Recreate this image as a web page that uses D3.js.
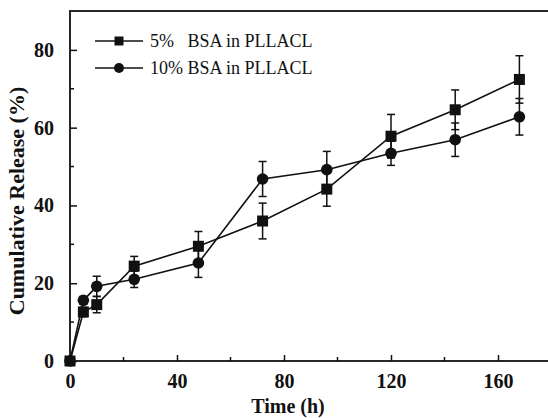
<!DOCTYPE html>
<meta charset="utf-8">
<style>
  body { margin: 0; background: #fff; }
  svg text { font-family: "Liberation Serif", "Times New Roman", serif; fill: #111; }
</style>
<body>
<script src="https://d3js.org/d3.v7.min.js"></script>
<script>
// release data
var time     = [0, 5, 10, 24, 48, 72, 96, 120, 144, 168];
var bsa5     = [0, 12.6, 14.5, 24.4, 29.5, 36.0, 44.2, 57.8, 64.6, 72.4];
var bsa5Err  = [0, 1.2, 2.1, 2.5, 3.8, 4.6, 4.4, 5.6, 5.1, 6.1];
var bsa10    = [0, 15.6, 19.2, 21.0, 25.2, 46.8, 49.2, 53.4, 56.9, 62.8];
var bsa10Err = [0, 1.0, 2.6, 2.1, 3.7, 4.5, 4.7, 3.1, 4.3, 4.7];
var xTicks = [0, 40, 80, 120, 160];
var yTicks = [0, 20, 40, 60, 80];
var seriesNames = ["5%   BSA in PLLACL", "10% BSA in PLLACL"];

var W = 548, H = 418;
var svg = d3.select("body").append("svg")
    .attr("width", W).attr("height", H);

// scales
var x = d3.scaleLinear().domain([0, 180]).range([70, 551.5]);
var y = d3.scaleLinear().domain([0, 90]).range([361, 11]);

// frame
svg.append("rect")
    .attr("x", x(0)).attr("y", y(90))
    .attr("width", x(180) - x(0)).attr("height", y(0) - y(90))
    .style("fill", "none").style("stroke", "#111").style("stroke-width", 1.8);

// x axis, ticks inward
var xAxis = svg.append("g")
    .attr("transform", "translate(0," + y(0) + ")")
    .call(d3.axisBottom(x).tickValues(xTicks).tickSize(-6).tickPadding(13).tickFormat(d3.format("d")));
xAxis.select(".domain").remove();
xAxis.selectAll("line").style("stroke", "#111").style("stroke-width", 1.5);
xAxis.selectAll("text").style("font-size", "20px").style("font-weight", "bold").attr("dy", "0.71em");
svg.append("g").selectAll("line")
    .data([20, 60, 100, 140])
    .enter().append("line")
    .attr("x1", function(d) { return x(d); }).attr("x2", function(d) { return x(d); })
    .attr("y1", y(0)).attr("y2", y(0) - 4)
    .style("stroke", "#111").style("stroke-width", 1.5);

// y axis, ticks inward
var yAxis = svg.append("g")
    .attr("transform", "translate(" + x(0) + ",0)")
    .call(d3.axisLeft(y).tickValues(yTicks).tickSize(-7).tickPadding(16));
yAxis.select(".domain").remove();
yAxis.selectAll("line").style("stroke", "#111").style("stroke-width", 1.5);
yAxis.selectAll("text").style("font-size", "20px").style("font-weight", "bold");
svg.append("g").selectAll("line")
    .data([10, 30, 50, 70])
    .enter().append("line")
    .attr("x1", x(0)).attr("x2", x(0) + 4)
    .attr("y1", function(d) { return y(d); }).attr("y2", function(d) { return y(d); })
    .style("stroke", "#111").style("stroke-width", 1.5);

// axis titles
svg.append("text")
    .attr("x", 288).attr("y", 413)
    .style("text-anchor", "middle").style("font-size", "20px").style("font-weight", "bold")
    .text("Time (h)");
svg.append("text")
    .attr("transform", "translate(24,201) rotate(-90)")
    .style("text-anchor", "middle").style("font-size", "22px").style("font-weight", "bold")
    .text("Cumulative Release (%)");

// series
var series = [
    {vals: bsa5, err: bsa5Err, shape: "square"},
    {vals: bsa10, err: bsa10Err, shape: "circle"}
];

var line = d3.line()
    .x(function(d) { return x(d[0]); })
    .y(function(d) { return y(d[1]); });

series.forEach(function(s) {
    var pts = time.map(function(t, i) { return [t, s.vals[i], s.err[i]]; });

    svg.append("path")
        .attr("d", line(pts))
        .style("fill", "none").style("stroke", "#111").style("stroke-width", 1.6);

    var eb = svg.append("g").selectAll("g")
        .data(pts.filter(function(p) { return p[2] > 0; }))
        .enter().append("g")
        .style("stroke", "#111").style("stroke-width", 1.5);
    eb.append("line")
        .attr("x1", function(d) { return x(d[0]); }).attr("x2", function(d) { return x(d[0]); })
        .attr("y1", function(d) { return y(d[1] + d[2]); }).attr("y2", function(d) { return y(d[1] - d[2]); });
    [1, -1].forEach(function(sg) {
        eb.append("line")
            .attr("x1", function(d) { return x(d[0]) - 4; }).attr("x2", function(d) { return x(d[0]) + 4; })
            .attr("y1", function(d) { return y(d[1] + sg * d[2]); }).attr("y2", function(d) { return y(d[1] + sg * d[2]); });
    });

    if (s.shape == "square") {
        svg.append("g").selectAll("rect")
            .data(pts).enter().append("rect")
            .attr("x", function(d) { return x(d[0]) - 5.5; })
            .attr("y", function(d) { return y(d[1]) - 5.5; })
            .attr("width", 11).attr("height", 11)
            .style("fill", "#111");
    } else {
        svg.append("g").selectAll("circle")
            .data(pts).enter().append("circle")
            .attr("cx", function(d) { return x(d[0]); })
            .attr("cy", function(d) { return y(d[1]); })
            .attr("r", 5.8)
            .style("fill", "#111");
    }
});

// legend
var legend = svg.append("g");
[41, 68].forEach(function(ly, i) {
    legend.append("line")
        .attr("x1", 95).attr("x2", 143).attr("y1", ly).attr("y2", ly)
        .style("stroke", "#111").style("stroke-width", 1.6);
    if (i == 0) {
        legend.append("rect").attr("x", 114.5).attr("y", ly - 4.5)
            .attr("width", 9).attr("height", 9).style("fill", "#111");
    } else {
        legend.append("circle").attr("cx", 119).attr("cy", ly).attr("r", 5)
            .style("fill", "#111");
    }
    legend.append("text")
        .attr("x", 150).attr("y", ly).attr("dy", "0.35em")
        .style("font-size", "18px").style("white-space", "pre")
        .text(seriesNames[i]);
});
</script>
</body>
